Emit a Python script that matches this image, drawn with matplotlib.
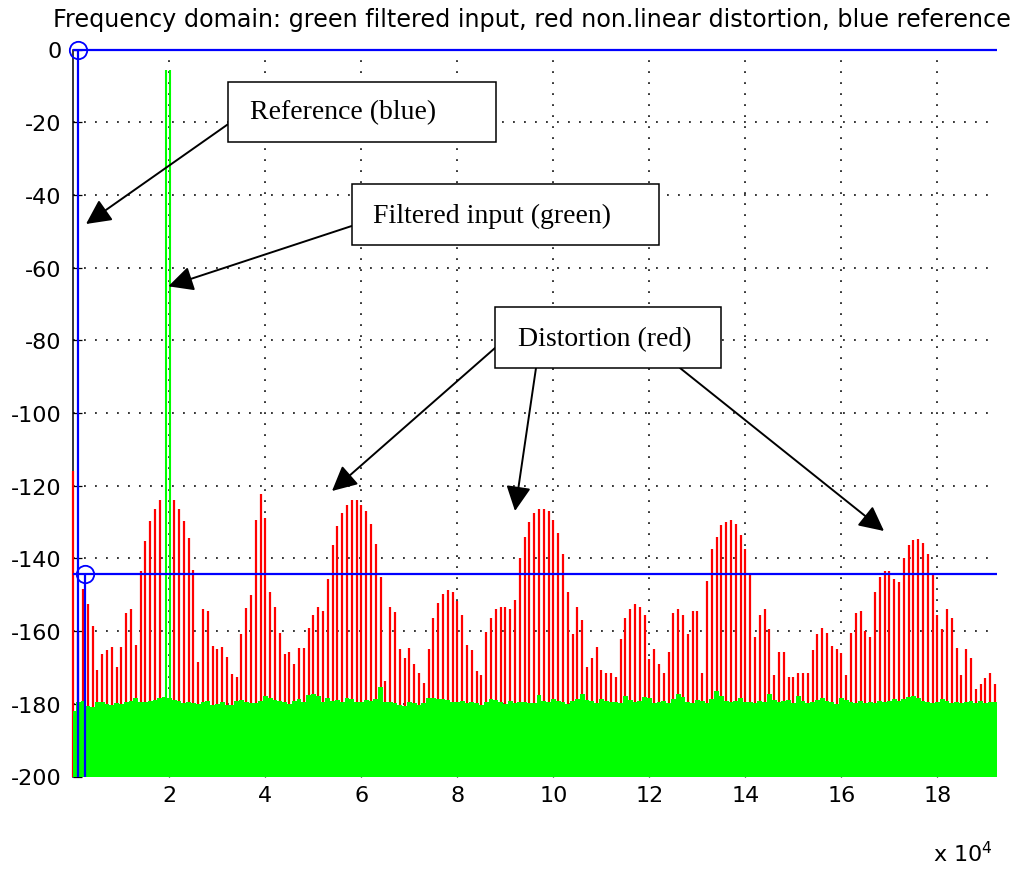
import numpy as np
import matplotlib
matplotlib.use("Agg")
import matplotlib.pyplot as plt
from matplotlib.patches import Rectangle, FancyArrowPatch
from matplotlib.ticker import FuncFormatter

plt.rcParams['font.family'] = ['DejaVu Sans']
plt.rcParams['axes.unicode_minus'] = False

# Spektrum: ein Wert pro 1 kHz-Bin (dB)
bin_hz = 1000
red_db = [
    -116.0, -160.0, -148.4, -152.6, -158.5, -170.8, -166.3, -165.1, -164.5, -169.8,
    -164.5, -155.0, -153.9, -163.7, -143.4, -135.1, -129.8, -126.4, -123.9, -181.0,
    -181.0, -123.9, -126.4, -129.8, -134.4, -143.2, -168.4, -153.8, -154.4, -164.0,
    -164.9, -164.5, -167.2, -171.9, -172.5, -160.8, -153.7, -150.1, -129.3, -122.2,
    -128.8, -149.2, -153.4, -160.4, -166.2, -165.7, -169.1, -164.6, -164.6, -159.2,
    -155.6, -153.4, -154.5, -145.8, -136.3, -131.1, -127.6, -125.3, -124.0, -124.0,
    -125.4, -127.0, -130.6, -136.0, -145.1, -173.7, -153.3, -154.7, -165.0, -167.3,
    -164.6, -169.1, -171.6, -174.4, -165.0, -156.3, -152.2, -149.9, -148.8, -149.2,
    -151.7, -155.6, -163.9, -165.3, -171.0, -172.0, -160.3, -156.3, -153.8, -153.3,
    -153.3, -154.0, -151.5, -140.0, -134.0, -130.0, -127.6, -126.5, -126.5, -127.0,
    -129.5, -132.9, -138.9, -149.2, -160.9, -153.3, -157.0, -169.8, -167.3, -164.4,
    -170.8, -171.4, -171.6, -172.6, -162.1, -156.3, -154.0, -152.6, -153.4, -155.7,
    -167.8, -165.0, -169.1, -171.4, -165.8, -154.9, -154.0, -155.6, -160.9, -154.5,
    -154.5, -171.4, -146.2, -137.5, -134.0, -130.9, -130.0, -129.4, -130.6, -133.5,
    -137.5, -144.4, -161.5, -155.7, -154.0, -159.3, -172.2, -165.7, -165.7, -172.6,
    -172.6, -171.6, -171.6, -171.6, -165.2, -160.9, -159.2, -160.6, -164.1, -165.0,
    -166.0, -172.1, -160.4, -154.9, -154.5, -160.0, -161.6, -149.2, -145.1, -143.5,
    -143.5, -145.8, -146.5, -139.8, -136.4, -134.9, -134.6, -135.9, -138.7, -144.1,
    -155.7, -159.3, -154.0, -156.3, -164.6, -172.2, -165.0, -167.3, -175.8, -174.5,
    -172.8, -171.6, -174.5,
]
green_db = [
    -181.9, -179.5, -179.1, -180.5, -180.8, -179.4, -179.4, -180.0, -180.3, -179.8,
    -180.0, -179.4, -179.1, -178.4, -179.6, -179.4, -179.1, -179.0, -178.3, -178.0,
    -178.3, -178.9, -179.2, -179.7, -179.5, -179.8, -180.0, -179.4, -179.3, -180.2,
    -180.1, -179.5, -180.2, -180.3, -179.3, -178.9, -179.6, -179.8, -179.9, -179.3,
    -177.9, -178.5, -179.0, -179.3, -179.6, -180.1, -179.3, -178.7, -179.4, -177.6,
    -177.3, -177.9, -179.5, -178.4, -179.2, -178.9, -179.6, -178.3, -178.7, -179.4,
    -179.5, -178.9, -179.2, -178.6, -175.5, -179.5, -179.6, -179.8, -180.4, -180.5,
    -179.5, -179.9, -180.3, -179.7, -178.3, -178.5, -178.8, -178.6, -179.0, -179.4,
    -179.6, -179.3, -179.9, -179.5, -179.8, -180.3, -179.4, -178.6, -178.9, -179.6,
    -180.0, -179.2, -179.8, -179.5, -179.4, -179.9, -179.8, -177.6, -179.1, -179.4,
    -178.8, -179.3, -179.5, -180.1, -179.2, -178.6, -177.4, -178.9, -179.2, -179.9,
    -178.7, -179.1, -179.4, -179.6, -179.8, -177.9, -179.0, -179.6, -179.3, -178.1,
    -178.4, -179.8, -179.5, -179.2, -179.7, -178.6, -177.3, -178.2, -179.4, -179.7,
    -179.0, -179.3, -179.9, -178.8, -176.6, -177.8, -179.1, -179.5, -179.2, -178.5,
    -179.6, -179.4, -179.7, -179.3, -179.6, -177.3, -178.9, -179.5, -179.2, -178.9,
    -179.8, -177.9, -179.2, -179.8, -179.4, -178.9, -178.4, -179.2, -179.6, -180.1,
    -178.3, -178.9, -179.4, -179.7, -179.2, -179.9, -179.5, -179.8, -179.3, -179.6,
    -179.1, -178.8, -179.2, -178.7, -178.1, -177.8, -178.5, -179.3, -179.6, -179.9,
    -179.5, -178.6, -179.2, -179.8, -179.4, -179.9, -179.6, -179.1, -179.7, -179.3,
    -179.8, -179.4, -179.6,
]
# gefiltertes Eingangssignal (Doppellinie bei 20 kHz)
tone_hz = [19300, 20200]
tone_db = [-5.6, -5.6]
# Referenz (blau)
ref_hz = [1000, 2400]
ref_db = [0.0, -144.3]

f_max = 192400
y_min, y_max = -200, 0
title = "Frequency domain: green filtered input, red non.linear distortion, blue reference"

freq_hz = np.arange(len(red_db)) * bin_hz

W, H = 1020, 870
fig = plt.figure(figsize=(W / 100, H / 100), dpi=100)
ax = fig.add_axes([73.5 / W, 1 - 777.5 / H, (997 - 73.5) / W, (777.5 - 50.5) / H])


def fpos(px, py):
    # Pixel im Bild -> Figure-Koordinaten
    return (px / W, 1 - py / H)


# rote Verzerrung
ax.vlines(freq_hz, y_min, red_db, color='#ff0000', lw=1.6, zorder=2.6, clip_on=False)
# gruener Rauschteppich
green = np.array(green_db)
ax.bar(freq_hz, green - y_min, bottom=y_min, width=bin_hz, color='#00ff00',
       linewidth=0, zorder=3)
ax.vlines(tone_hz, y_min, tone_db, color='#00ff00', lw=1.5, zorder=4)
# Referenz
ax.hlines(ref_db, 0, f_max, color='#0000ff', lw=1.6, zorder=5, clip_on=False)
ax.vlines(ref_hz, y_min, ref_db, color='#0000ff', lw=1.6, zorder=5)
ax.plot(ref_hz, ref_db, 'o', mfc='none', mec='#0000ff', ms=12.5, mew=1.3,
        zorder=6, clip_on=False)

ax.set_xlim(0, f_max)
ax.set_ylim(y_min, y_max)
ax.set_xticks(np.arange(20000, 190000, 20000))
ax.set_yticks(np.arange(-200, 1, 20))
ax.xaxis.set_major_formatter(FuncFormatter(lambda v, p: f"{v / 1e4:g}"))
ax.set_axisbelow(True)
ax.grid(True, color='black', lw=1.1, linestyle=(0, (1.2, 6.0)))
ax.tick_params(direction='in', length=6.5, width=0.9, labelsize=16)
ax.tick_params(axis='y', pad=8.5)
ax.tick_params(axis='x', pad=6)
for s in ['top', 'right', 'bottom']:
    ax.spines[s].set_visible(False)
ax.spines['left'].set_linewidth(1.1)

fig.text(532 / W, 1 - 27.3 / H, title, ha='center', va='baseline', fontsize=17.2)
fig.text(933 / W, 1 - 862 / H, r'x $10^4$', ha='left', va='baseline', fontsize=16)

# Beschriftungskaesten mit Pfeilen
boxes = [
    ("Reference (blue)", (228.5, 82.5, 496, 143), (250, 119.3)),
    ("Filtered input (green)", (351.7, 185, 659.3, 245.7), (373.3, 222.7)),
    ("Distortion (red)", (495, 307.7, 721, 369), (517.7, 346)),
]
for label, (x0, y0, x1, y1), (tx, ty) in boxes:
    fig.add_artist(Rectangle(fpos(x0, y1), (x1 - x0) / W, (y1 - y0) / H,
                             transform=fig.transFigure, facecolor='white',
                             edgecolor='black', lw=1.1, zorder=10))
    fig.text(*fpos(tx, ty), label, family='Liberation Serif', fontsize=20,
             ha='left', va='baseline', zorder=11)

arrows = [
    ((228.3, 125), (86, 225)),
    ((351.7, 227), (168.3, 287.3)),
    ((495, 349), (332, 492)),
    ((536, 369), (515, 512)),
    ((680, 369), (884, 532)),
]
for start, tip in arrows:
    fig.add_artist(FancyArrowPatch(fpos(*start), fpos(*tip), transform=fig.transFigure,
                                   arrowstyle='-|>', mutation_scale=38, lw=1.4,
                                   color='black', shrinkA=0, shrinkB=0, zorder=9))

plt.savefig('out.png', dpi=100)
